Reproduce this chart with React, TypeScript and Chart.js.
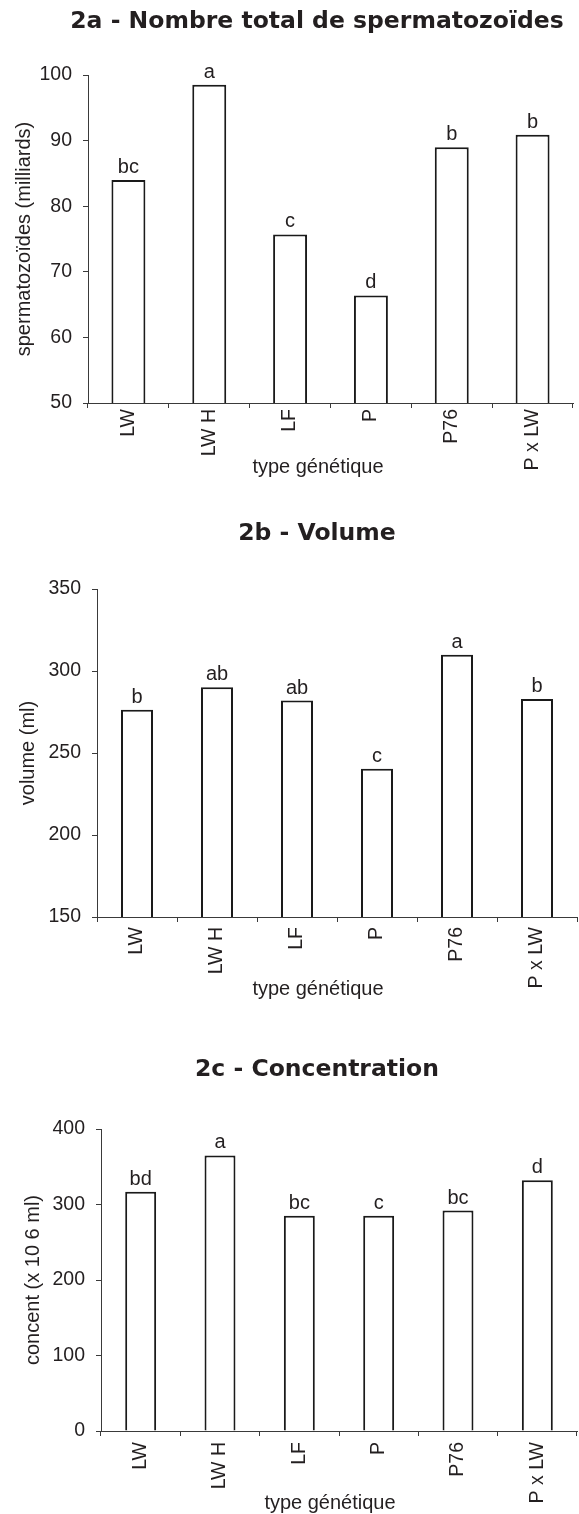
import React, { useEffect, useRef } from "react";
import { Chart, registerables } from "chart.js";

Chart.register(...registerables);

// ---------- data ----------
const categories = ["LW", "LW H", "LF", "P", "P76", "P x LW"];

const totalSperm = [84.0, 98.5, 75.7, 66.4, 89.0, 90.9];
const totalLetters = ["bc", "a", "c", "d", "b", "b"];
const totalAxis = { min: 50, max: 100, step: 10 };

const volume = [276.3, 290.1, 282.0, 240.4, 309.9, 283.0];
const volumeLetters = ["b", "ab", "ab", "c", "a", "b"];
const volumeAxis = { min: 150, max: 350, step: 50 };

const concentration = [317, 365, 285, 285, 292, 332];
const concLetters = ["bd", "a", "bc", "c", "bc", "d"];
const concAxis = { min: 0, max: 400, step: 100 };

const titles = [
  "2a - Nombre total de spermatozoïdes",
  "2b - Volume",
  "2c - Concentration",
];
const yTitles = ["spermatozoïdes (milliards)", "volume (ml)", "concent (x 10 6 ml)"];
const xTitle = "type génétique";

// ---------- style ----------
const TEXT = "#231f20";
const AXIS = "#3a3a3a";
const BAR_BORDER = "#1a1a1a";
const SANS = '"Liberation Sans", Arial, sans-serif';
const TITLE_FONT = 'bold 23.5px "DejaVu Sans", sans-serif';

type Panel = {
  top: number;
  height: number;
  values: number[];
  letters: string[];
  axis: { min: number; max: number; step: number };
  title: string;
  yTitle: string;
  plotTop: number;
  plotBottom: number;
  plotLeft: number;
  plotRight: number;
  titleY: number;
  xTitleX: number;
  xTitleY: number;
  yTitleX: number;
  xPad: number;
  barPct: number;
};

const W = 579;

const panels: Panel[] = [
  {
    top: 0, height: 500, values: totalSperm, letters: totalLetters, axis: totalAxis,
    title: titles[0], yTitle: yTitles[0],
    plotTop: 75, plotBottom: 403, plotLeft: 88, plotRight: 573,
    titleY: 28, xTitleX: 318, xTitleY: 473, yTitleX: 24, xPad: 1, barPct: 0.42,
  },
  {
    top: 500, height: 520, values: volume, letters: volumeLetters, axis: volumeAxis,
    title: titles[1], yTitle: yTitles[1],
    plotTop: 89, plotBottom: 417, plotLeft: 97, plotRight: 577,
    titleY: 40, xTitleX: 318, xTitleY: 495, yTitleX: 28, xPad: 5, barPct: 0.4,
  },
  {
    top: 1020, height: 494, values: concentration, letters: concLetters, axis: concAxis,
    title: titles[2], yTitle: yTitles[2],
    plotTop: 109, plotBottom: 411, plotLeft: 101, plotRight: 577,
    titleY: 56, xTitleX: 330, xTitleY: 489, yTitleX: 33, xPad: 6, barPct: 0.39,
  },
];

function BarPanel({ p }: { p: Panel }) {
  const ref = useRef<HTMLCanvasElement | null>(null);

  useEffect(() => {
    const canvas = ref.current;
    if (!canvas) return;

    const textPlugin = {
      id: "panelText",
      afterDraw(chart: any) {
        const { ctx, chartArea } = chart;
        ctx.save();
        ctx.fillStyle = TEXT;
        ctx.textAlign = "center";
        ctx.textBaseline = "alphabetic";
        ctx.font = TITLE_FONT;
        ctx.fillText(p.title, 317, p.titleY);

        ctx.font = `20px ${SANS}`;
        ctx.fillText(xTitle, p.xTitleX, p.xTitleY);

        ctx.save();
        ctx.translate(p.yTitleX, (chartArea.top + chartArea.bottom) / 2);
        ctx.rotate(-Math.PI / 2);
        ctx.textBaseline = "middle";
        ctx.fillText(p.yTitle, 0, 0);
        ctx.restore();

        const meta = chart.getDatasetMeta(0);
        meta.data.forEach((bar: any, i: number) => {
          ctx.fillText(p.letters[i], bar.x, bar.y - 7);
        });
        ctx.restore();
      },
    };

    const chart = new Chart(canvas, {
      type: "bar",
      data: {
        labels: categories,
        datasets: [
          {
            data: p.values,
            backgroundColor: "#ffffff",
            borderColor: BAR_BORDER,
            borderWidth: 2,
            barPercentage: p.barPct,
            categoryPercentage: 1,
          },
        ],
      },
      options: {
        responsive: false,
        animation: false,
        devicePixelRatio: 1,
        layout: {
          padding: { left: 0, right: W - p.plotRight, top: p.plotTop, bottom: 0 },
        },
        plugins: {
          legend: { display: false },
          tooltip: { enabled: false },
          title: { display: false },
        },
        scales: {
          x: {
            grid: {
              display: true,
              drawOnChartArea: false,
              drawTicks: true,
              tickLength: 5,
              color: AXIS,
              offset: true,
            },
            border: { display: true, color: AXIS, width: 1 },
            ticks: {
              autoSkip: false,
              maxRotation: 90,
              minRotation: 90,
              padding: p.xPad,
              color: TEXT,
              font: { family: SANS, size: 19.5 },
            },
            afterFit: (s: any) => {
              s.height = p.height - p.plotBottom;
            },
          },
          y: {
            min: p.axis.min,
            max: p.axis.max,
            ticks: {
              stepSize: p.axis.step,
              padding: 11,
              color: TEXT,
              font: { family: SANS, size: 19.5 },
            },
            grid: {
              drawOnChartArea: false,
              drawTicks: true,
              tickLength: 5,
              color: AXIS,
            },
            border: { display: true, color: AXIS, width: 1 },
            afterFit: (s: any) => {
              s.width = p.plotLeft;
            },
          },
        },
      },
      plugins: [textPlugin],
    } as any);

    return () => chart.destroy();
  }, [p]);

  return (
    <canvas
      ref={ref}
      width={W}
      height={p.height}
      style={{ position: "absolute", left: 0, top: p.top, width: W, height: p.height }}
    />
  );
}

export default function App() {
  return (
    <div
      style={{
        position: "absolute",
        left: 0,
        top: 0,
        width: W,
        height: 1514,
        background: "#ffffff",
        overflow: "hidden",
      }}
    >
      {panels.map((p, i) => (
        <BarPanel key={i} p={p} />
      ))}
    </div>
  );
}
